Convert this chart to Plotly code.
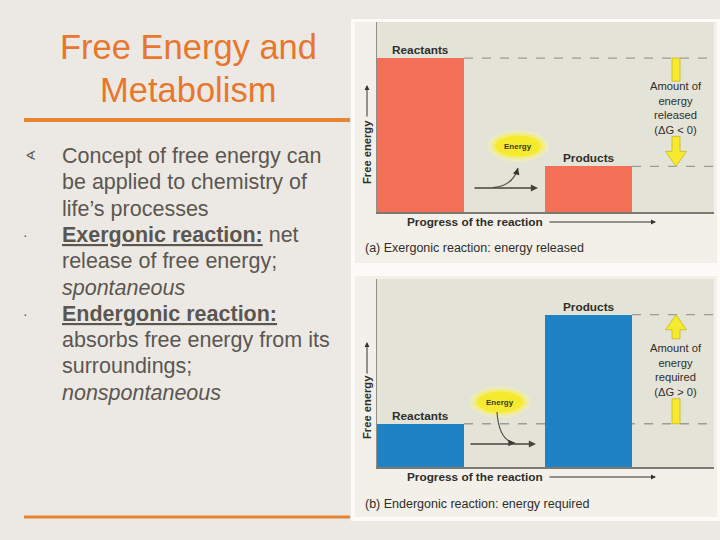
import plotly.graph_objects as go

# ---------------- data ----------------
stages = ["Reactants", "Products"]
exergonic_energy = [81, 24]      # free energy (relative units), panel (a)
endergonic_energy = [23, 81]     # free energy (relative units), panel (b)

title_lines = ["Free Energy and", "Metabolism"]
body_lines = [
    "Concept of free energy can",
    "be applied to chemistry of",
    "life’s processes",
    "<b><u>Exergonic reaction:</u></b> net",
    "release of free energy;",
    "<i>spontaneous</i>",
    "<b><u>Endergonic reaction:</u></b>",
    "absorbs free energy from its",
    "surroundings;",
    "<i>nonspontaneous</i>",
]
released_text = ["Amount of", "energy", "released", "(ΔG < 0)"]
required_text = ["Amount of", "energy", "required", "(ΔG > 0)"]
caption_a = "(a) Exergonic reaction: energy released"
caption_b = "(b) Endergonic reaction: energy required"

# ---------------- layout helpers ----------------
W, H = 720, 540
FONT = "Liberation Sans, Arial, sans-serif"


def X(px):
    return px / W


def Y(py):
    return 1 - py / H


XR = [-0.259, 1.747]          # x range of both diagrams
YR = [0, 100]
BAR_W = 0.518
bar_x = list(range(len(stages)))

# plot-area pixel boxes
PA = dict(l=377, r=714, t=22, b=212)
PB = dict(l=377, r=714, t=279, b=467)

xu = (PA["r"] - PA["l"]) / (XR[1] - XR[0])      # px per x unit
yu_a = (PA["b"] - PA["t"]) / (YR[1] - YR[0])    # px per y unit
yu_b = (PB["b"] - PB["t"]) / (YR[1] - YR[0])

RED = "#F36F55"
BLUE = "#1E82C4"
YEL = "#F6EA2E"
YEL_EDGE = "#C9B81A"
DARK = "#2E2E2A"
GRAY_TXT = "#5B5750"
ORANGE = "#E8772E"

fig = go.Figure()
fig.add_trace(go.Bar(x=bar_x, y=exergonic_energy, width=BAR_W, marker_color=RED,
                     marker_line_width=0, xaxis="x", yaxis="y", hoverinfo="skip"))
fig.add_trace(go.Bar(x=bar_x, y=endergonic_energy, width=BAR_W, marker_color=BLUE,
                     marker_line_width=0, xaxis="x2", yaxis="y2", hoverinfo="skip"))

shapes = []
ann = []


def txt(text, px, py, size, color=DARK, xanchor="center", family=FONT, **kw):
    ann.append(dict(text=text, x=X(px), y=Y(py), xref="paper", yref="paper",
                    showarrow=False, xanchor=xanchor, yanchor="middle",
                    font=dict(family=family, size=size, color=color), **kw))


# ---- background frames ----
shapes.append(dict(type="rect", xref="paper", yref="paper", x0=X(351), x1=X(722),
                   y0=Y(521), y1=Y(19), fillcolor="#FCFBF7", line_width=0, layer="below"))
for top, bot in [(22, 263), (276, 517)]:
    shapes.append(dict(type="rect", xref="paper", yref="paper", x0=X(355), x1=X(717),
                       y0=Y(bot), y1=Y(top), fillcolor="#F2F0E8", line_width=0, layer="below"))
for P in (PA, PB):
    shapes.append(dict(type="rect", xref="paper", yref="paper", x0=X(P["l"]), x1=X(P["r"]),
                       y0=Y(P["b"]), y1=Y(P["t"]), fillcolor="#E4E3D7", line_width=0,
                       layer="below"))

# ---- title & orange rules ----
for i, t in enumerate(title_lines):
    txt(t, 188, 47 + 43 * i, 34.5, ORANGE)
shapes.append(dict(type="line", xref="paper", yref="paper", x0=X(24), x1=X(350),
                   y0=Y(120), y1=Y(120), line=dict(color="#E8832F", width=4)))
shapes.append(dict(type="line", xref="paper", yref="paper", x0=X(24), x1=X(350),
                   y0=Y(517), y1=Y(517), line=dict(color="#E8832F", width=3)))

# ---- body text ----
for i, t in enumerate(body_lines):
    txt(t, 60, 156 + 26.3 * i, 21.5, GRAY_TXT, xanchor="left")
txt("∢", 30, 156, 13, GRAY_TXT, family="DejaVu Sans")
for yy in (235, 314):
    txt("·", 26, yy, 14, GRAY_TXT)


# ---- diagram annotations ----
def diagram(P, xa, ya, values, yu, arrow_text, text_c, upward, ell_c, curve, harrow,
            caption, cap_y):
    xref, yref = xa, ya
    # bar labels
    for xi, v, name in zip(bar_x, values, stages):
        ann.append(dict(text="<b>" + name + "</b>", x=xi, y=v, xref=xref, yref=yref,
                        showarrow=False, yanchor="bottom", yshift=-1,
                        font=dict(family=FONT, size=11.8, color=DARK)))
    # dashed level lines
    for xi, v in zip(bar_x, values):
        shapes.append(dict(type="line", xref=xref, yref=yref, x0=xi + BAR_W / 2, x1=XR[1],
                           y0=v, y1=v, line=dict(color="#9C9C94", width=1.3, dash="dash"),
                           layer="below"))
    # yellow arrow
    ax_c = XR[0] + (676 - P["l"]) / xu
    sw = 4 / xu
    hw = 10.5 / xu
    hi, lo = max(values), min(values)
    head = 15 / yu
    seg1 = 23 / yu
    if upward:
        p1 = (f"M {ax_c - hw},{hi - head} L {ax_c},{hi} L {ax_c + hw},{hi - head} "
              f"L {ax_c + sw},{hi - head} L {ax_c + sw},{hi - head - 9 / yu} "
              f"L {ax_c - sw},{hi - head - 9 / yu} L {ax_c - sw},{hi - head} Z")
        p2 = (f"M {ax_c - sw},{lo} L {ax_c + sw},{lo} L {ax_c + sw},{lo + 25 / yu} "
              f"L {ax_c - sw},{lo + 25 / yu} Z")
    else:
        p1 = (f"M {ax_c - sw},{hi} L {ax_c + sw},{hi} L {ax_c + sw},{hi - seg1} "
              f"L {ax_c - sw},{hi - seg1} Z")
        p2 = (f"M {ax_c - hw},{lo + head} L {ax_c},{lo} L {ax_c + hw},{lo + head} "
              f"L {ax_c + sw},{lo + head} L {ax_c + sw},{lo + head + 15 / yu} "
              f"L {ax_c - sw},{lo + head + 15 / yu} L {ax_c - sw},{lo + head} Z")
    for p in (p1, p2):
        shapes.append(dict(type="path", path=p, xref=xref, yref=yref, fillcolor=YEL,
                           line=dict(color=YEL_EDGE, width=0.8)))
    txt("<br>".join(arrow_text), 676, text_c, 11.2)
    # energy glow
    cx, cy = ell_c
    for (rw, rh, col) in [(31, 16, "rgba(250,245,150,0.35)"), (27, 13, "rgba(248,238,80,0.6)"),
                          (23, 10.5, YEL)]:
        shapes.append(dict(type="circle", xref=xref, yref=yref, x0=cx - rw / xu, x1=cx + rw / xu,
                           y0=cy - rh / yu, y1=cy + rh / yu, fillcolor=col, line_width=0))
    ann.append(dict(text="<b>Energy</b>", x=cx, y=cy, xref=xref, yref=yref, showarrow=False,
                    font=dict(family=FONT, size=8, color="#3A3A22")))
    # curved arrow
    (x0, y0), (qx, qy), (x1, y1), (tx, ty) = curve
    shapes.append(dict(type="path", path=f"M {x0},{y0} Q {qx},{qy} {x1},{y1}", xref=xref,
                       yref=yref, line=dict(color="#55554F", width=1.2)))
    ann.append(dict(text="", x=x1, y=y1, xref=xref, yref=yref, ax=tx, ay=ty, showarrow=True,
                    arrowhead=2, arrowsize=1.1, arrowwidth=1.2, arrowcolor="#33332E",
                    standoff=0))
    # horizontal arrow
    hx0, hx1, hy = harrow
    ann.append(dict(text="", x=hx1, y=hy, xref=xref, yref=yref, axref=xref, ayref=yref,
                    ax=hx0, ay=hy, showarrow=True, arrowhead=2, arrowsize=1.1,
                    arrowwidth=1.3, arrowcolor="#44443F", standoff=0))
    # axis labels
    txt("<b>Free energy</b>", 367, P["b"] - 60, 11.2, textangle=-90)
    ann.append(dict(text="", x=X(367), y=Y(P["t"] + 63), xref="paper", yref="paper",
                    ax=0, ay=33, showarrow=True, arrowhead=2, arrowsize=1, arrowwidth=1,
                    arrowcolor="#33332E", standoff=0))
    txt("<b>Progress of the reaction</b>", 475, P["b"] + 10, 11.8)
    ann.append(dict(text="", x=X(656), y=Y(P["b"] + 10), xref="paper", yref="paper",
                    ax=-108, ay=0, showarrow=True, arrowhead=2, arrowsize=1, arrowwidth=1,
                    arrowcolor="#33332E", standoff=0))
    txt(caption, 363, cap_y, 12.5, xanchor="left")


def ux(px):
    return XR[0] + (px - PA["l"]) / xu


def uya(py):
    return (PA["b"] - py) / yu_a


def uyb(py):
    return (PB["b"] - py) / yu_b


diagram(PA, "x", "y", exergonic_energy, yu_a, released_text, 108, False,
        (ux(518), uya(146)),
        ((ux(493), uya(187.5)), (ux(513), uya(186)), (ux(518), uya(168)), (-2, 7)),
        (ux(473), ux(538), uya(188)), caption_a, 248)
diagram(PB, "x2", "y2", endergonic_energy, yu_b, required_text, 370, True,
        (ux(500), uyb(402)),
        ((ux(497), uyb(412)), (ux(499), uyb(441)), (ux(515), uyb(443)), (-7, 0)),
        (ux(469), ux(536), uyb(444)), caption_b, 504)

axis_common = dict(range=XR, showticklabels=False, showgrid=False, zeroline=False,
                   ticks="", showline=True, linecolor="#7A7A72", linewidth=2, fixedrange=True)
yaxis_common = dict(range=YR, showticklabels=False, showgrid=False, zeroline=False,
                    ticks="", showline=True, linecolor="#909088", linewidth=1.5, fixedrange=True)

fig.update_layout(
    width=W, height=H, margin=dict(l=0, r=0, t=0, b=0),
    paper_bgcolor="#ECE9E4", plot_bgcolor="rgba(0,0,0,0)",
    showlegend=False, bargap=0,
    xaxis=dict(domain=[X(PA["l"]), X(PA["r"])], anchor="y", **axis_common),
    yaxis=dict(domain=[Y(PA["b"]), Y(PA["t"])], anchor="x", **yaxis_common),
    xaxis2=dict(domain=[X(PB["l"]), X(PB["r"])], anchor="y2", **axis_common),
    yaxis2=dict(domain=[Y(PB["b"]), Y(PB["t"])], anchor="x2", **yaxis_common),
    shapes=shapes, annotations=ann,
)

fig.write_html(
    "out.html",
    config={"displayModeBar": False, "staticPlot": True},
    post_script="document.body.style.margin='0';document.body.style.padding='0';"
                "document.body.style.overflow='hidden';",
)
